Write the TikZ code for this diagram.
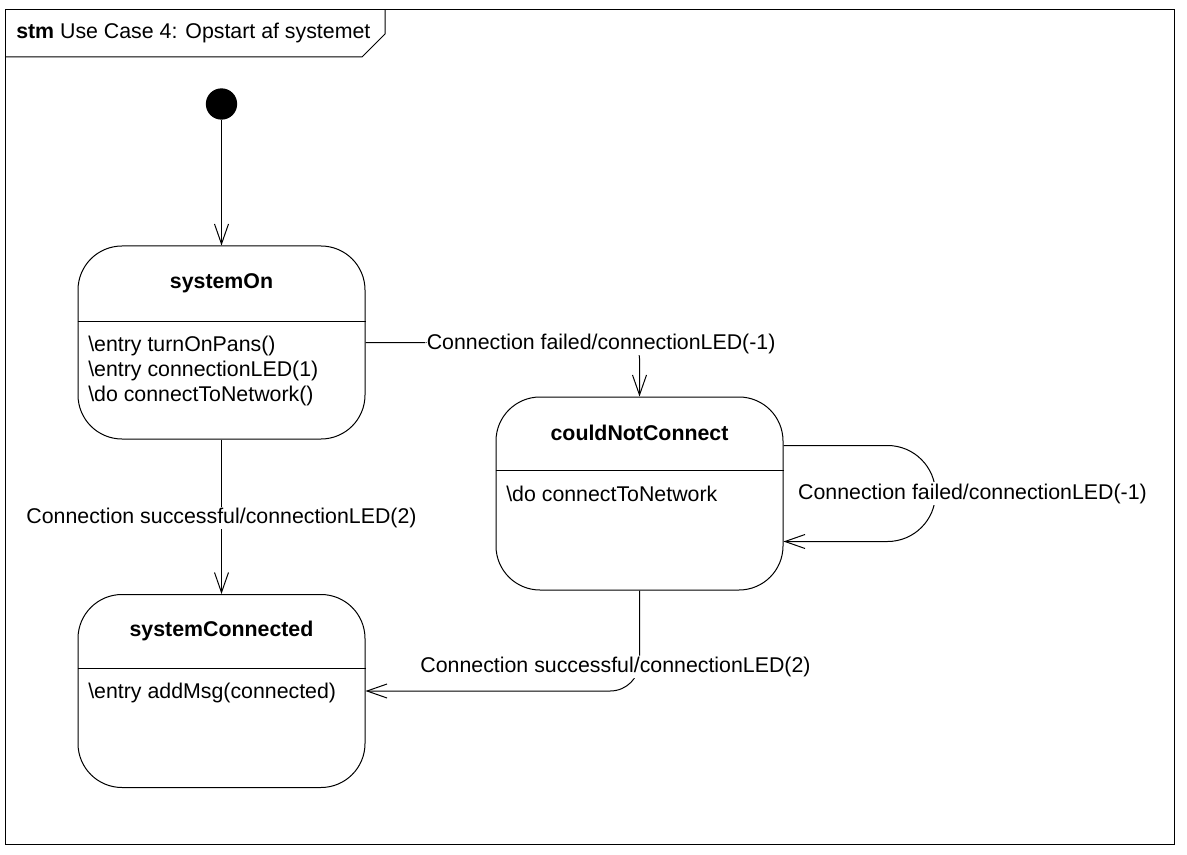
\documentclass[tikz,border=0pt]{standalone}
\usepackage{fontspec}
\setmainfont{Liberation Sans}
\usetikzlibrary{arrows.meta}

\newcommand\diagfont{\fontsize{16}{19}\selectfont}

\tikzset{
  state/.style={draw, line width=0.75pt, rounded corners=33pt, inner sep=0pt,
    minimum width=215.25pt, minimum height=144.75pt},
  stitle/.style={font=\diagfont\bfseries},
  sbody/.style={anchor=north west, align=left, inner sep=0pt},
  trans/.style={draw, line width=0.75pt, -{Straight Barb[length=15pt,width=10.5pt]}},
  tlabel/.style={fill=white, inner sep=1pt},
  initial/.style={circle, fill=black, inner sep=0pt, minimum size=23.5pt}
}

\begin{document}
\begin{tikzpicture}[x=0.75pt,y=0.75pt,yscale=-1,xscale=1,
  font=\diagfont]
\useasboundingbox (0,0) rectangle (1187,855);

%Frame
\draw [line width=0.75pt] (5,10) rectangle (1174,844) ;
%Frame header
\draw [line width=0.75pt] (5,57) -- (362,57) -- (385,34) -- (385,10) ;
\node [anchor=west, inner sep=0pt] (hdr) at (16,33) {\textbf{stm} Use Case 4: Opstart af systemet};

%Initial state
\node [initial] (init) at (221.5,104) {};

%State: systemOn
\node [state] (sysOn) at (221.5,342.5) {};
\node [stitle] (sysOnT) at (221.5,283) {systemOn};
\draw [line width=0.75pt] (sysOn.west |- 0,321) -- (sysOn.east |- 0,321) ;
\node [sbody] (sysOnB) at (88,335.5) {\textbackslash entry turnOnPans()\\\textbackslash entry connectionLED(1)\\\textbackslash do connectToNetwork()};

%State: couldNotConnect
\node [state] (noConn) at (639.5,493.5) {};
\node [stitle] (noConnT) at (639.5,433) {couldNotConnect};
\draw [line width=0.75pt] (noConn.west |- 0,470) -- (noConn.east |- 0,470) ;
\node [sbody] (noConnB) at (506,485.5) {\textbackslash do connectToNetwork};

%State: systemConnected
\node [state] (sysConn) at (221.5,691) {};
\node [stitle] (sysConnT) at (221.5,631) {systemConnected};
\draw [line width=0.75pt] (sysConn.west |- 0,668) -- (sysConn.east |- 0,668) ;
\node [sbody] (sysConnB) at (88,682.5) {\textbackslash entry addMsg(connected)};

%Transitions
\draw [trans] (init) -- (sysOn.north) ;
\draw [trans, rounded corners=12pt] (sysOn.east) -| (noConn.north)
  node [tlabel, pos=0.43, yshift=-1pt] {Connection failed/connectionLED(-1)} ;
\draw [trans] (sysOn.south) -- (sysConn.north)
  node [tlabel, midway, yshift=-1pt] {Connection successful/connectionLED(2)} ;
\draw [trans, rounded corners=36pt] ([yshift=-36pt]noConn.east) -- ++(152,0) -- ++(0,96)
  node [tlabel, midway, xshift=27.75pt] {Connection failed/connectionLED(-1)}
  -- ([yshift=36pt]noConn.east) ;
\draw [trans, rounded corners=22pt] (noConn.south) |- (sysConn.east)
  node [tlabel, pos=0.38, xshift=-18pt] {Connection successful/connectionLED(2)} ;
\end{tikzpicture}
\end{document}
